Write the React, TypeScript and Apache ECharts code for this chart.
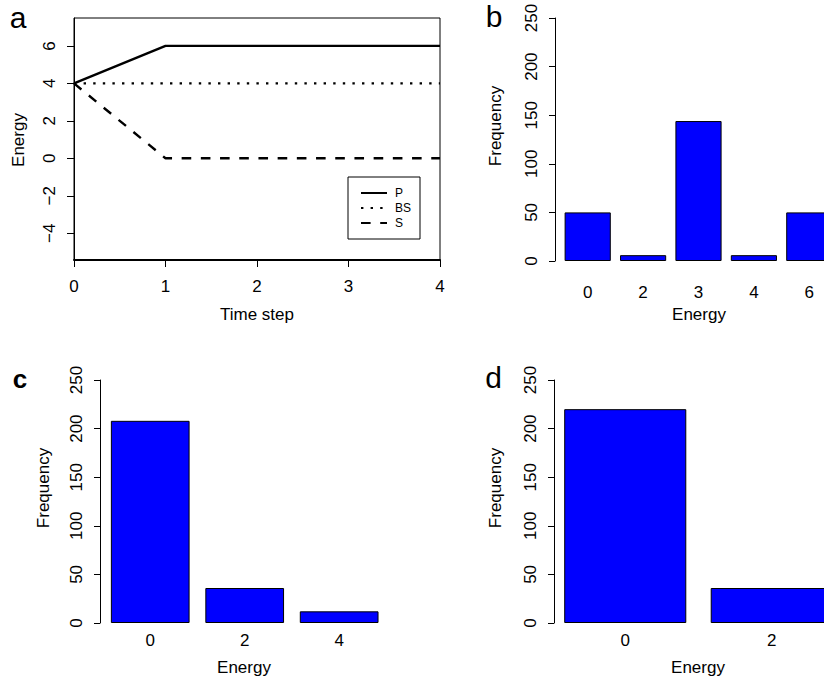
import React, { useEffect, useRef } from "react";
import * as echarts from "echarts";

// ---- data ----
const timeSteps = [0, 1, 2, 3, 4];
const pEnergy = [4, 6, 6, 6, 6];
const bsEnergy = [4, 4, 4, 4, 4];
const sEnergy = [4, 0, 0, 0, 0];
const energyTicksA = [-4, -2, 0, 2, 4, 6];

const bCats = ["0", "2", "3", "4", "6"];
const bVals = [50, 6, 144, 6, 50];
const cCats = ["0", "2", "4"];
const cVals = [208, 36, 12];
const dCats = ["0", "2"];
const dVals = [220, 36];

const FONT = "'Liberation Sans', Arial, Helvetica, sans-serif";
const FS = 17;

function barYAxis(gridIndex: number, offset: number) {
  return {
    type: "value",
    gridIndex,
    min: 0,
    max: 250,
    interval: 50,
    offset,
    axisLine: { show: true, lineStyle: { color: "#000", width: 1 } },
    axisTick: { show: true, length: 6, lineStyle: { color: "#000" } },
    axisLabel: { rotate: 90, margin: 15, color: "#000", fontSize: FS, fontFamily: FONT },
    splitLine: { show: false },
  };
}

function barXAxis(gridIndex: number, cats: string[], margin: number) {
  return {
    type: "category",
    gridIndex,
    data: cats,
    axisLine: { show: false },
    axisTick: { show: false },
    axisLabel: { interval: 0, margin, color: "#000", fontSize: FS, fontFamily: FONT },
    splitLine: { show: false },
  };
}

function barSeries(idx: number, vals: number[]) {
  return {
    type: "bar",
    xAxisIndex: idx,
    yAxisIndex: idx,
    data: vals,
    barCategoryGap: "16.67%",
    itemStyle: { color: "#0000FF", borderColor: "#000", borderWidth: 1 },
    silent: true,
  };
}

function label(text: string, x: number, y: number, opts: any = {}) {
  return {
    type: "text",
    x,
    y,
    rotation: opts.rotation || 0,
    style: {
      text,
      fill: "#000",
      fontSize: opts.fontSize || FS,
      fontWeight: opts.fontWeight || "normal",
      fontFamily: FONT,
      align: "center",
      verticalAlign: "middle",
    },
  };
}

export default function App() {
  const ref = useRef<HTMLDivElement>(null);
  useEffect(() => {
    if (!ref.current) return;
    const chart = echarts.init(ref.current, undefined, { renderer: "svg" });
    const lineData = (vals: number[]) => timeSteps.map((t, i) => [t, vals[i]]);
    const option: any = {
      animation: false,
      backgroundColor: "#fff",
      textStyle: { fontFamily: FONT },
      grid: [
        { left: 74, top: 18, width: 366, height: 242, show: true, borderColor: "#000", borderWidth: 1, backgroundColor: "transparent" },
        { left: 560, top: 18, width: 277, height: 243 },
        { left: 103, top: 380, width: 283.4, height: 243 },
        { left: 552, top: 380, width: 293, height: 243 },
      ],
      xAxis: [
        {
          type: "value",
          gridIndex: 0,
          min: 0,
          max: 4,
          interval: 1,
          axisLine: { show: true, onZero: false, lineStyle: { color: "#000", width: 2 } },
          axisTick: { show: true, length: 7, lineStyle: { color: "#000" } },
          axisLabel: { margin: 17.5, color: "#000", fontSize: FS, fontFamily: FONT },
          splitLine: { show: false },
        },
        barXAxis(1, bCats, 22.5),
        barXAxis(2, cCats, 8.5),
        barXAxis(3, dCats, 8.5),
      ],
      yAxis: [
        {
          type: "value",
          gridIndex: 0,
          min: -5.43,
          max: 7.49,
          axisLine: { show: true, onZero: false, lineStyle: { color: "#000", width: 1 } },
          axisTick: { show: true, length: 7, customValues: energyTicksA, lineStyle: { color: "#000" } },
          axisLabel: { rotate: 90, margin: 16, customValues: energyTicksA, color: "#000", fontSize: FS, fontFamily: FONT, formatter: (v: number) => (v < 0 ? "\u2212" + Math.abs(v) : String(v)) },
          splitLine: { show: false },
        },
        barYAxis(1, 5),
        barYAxis(2, 3),
        barYAxis(3, -2),
      ],
      legend: {
        data: ["P", "BS", "S"],
        left: 348,
        top: 177,
        orient: "vertical",
        borderColor: "#000",
        borderWidth: 1,
        borderRadius: 0,
        padding: [10, 9, 10, 12],
        itemWidth: 26,
        itemHeight: 12,
        itemGap: 3,
        selectedMode: false,
        itemStyle: { color: "rgba(0,0,0,0)", borderColor: "rgba(0,0,0,0)", borderWidth: 0, opacity: 0 },
        textStyle: { fontSize: 12, color: "#000", fontFamily: FONT, padding: [0, 0, 0, 3] },
      },
      series: [
        { name: "P", type: "line", xAxisIndex: 0, yAxisIndex: 0, data: lineData(pEnergy), symbol: "none", lineStyle: { color: "#000", width: 2.4, type: "solid" }, itemStyle: { color: "#000" } },
        { name: "BS", type: "line", xAxisIndex: 0, yAxisIndex: 0, data: lineData(bsEnergy), symbol: "none", lineStyle: { color: "#000", width: 2.4, type: [2.4, 7.2] }, itemStyle: { color: "#000" } },
        { name: "S", type: "line", xAxisIndex: 0, yAxisIndex: 0, data: lineData(sEnergy), symbol: "none", lineStyle: { color: "#000", width: 2.4, type: [9.6, 9.6] }, itemStyle: { color: "#000" } },
        barSeries(1, bVals),
        barSeries(2, cVals),
        barSeries(3, dVals),
      ],
      graphic: [
        label("a", 18, 17.5, { fontSize: 30 }),
        label("b", 494, 16.5, { fontSize: 30 }),
        label("c", 20, 379, { fontSize: 26, fontWeight: "bold" }),
        label("d", 493.5, 377.5, { fontSize: 30 }),
        label("Energy", 18, 140, { rotation: Math.PI / 2 }),
        label("Time step", 257, 314),
        label("Frequency", 495, 126, { rotation: Math.PI / 2 }),
        label("Energy", 699, 314),
        label("Frequency", 43, 488, { rotation: Math.PI / 2 }),
        label("Energy", 244, 667),
        label("Frequency", 495.5, 488, { rotation: Math.PI / 2 }),
        label("Energy", 698, 667),
      ],
    };
    chart.setOption(option);
    return () => chart.dispose();
  }, []);
  return (
    <div style={{ position: "absolute", left: 0, top: 0, width: 824, height: 681, overflow: "hidden", background: "#fff" }}>
      <div ref={ref} style={{ width: 860, height: 681 }} />
    </div>
  );
}
